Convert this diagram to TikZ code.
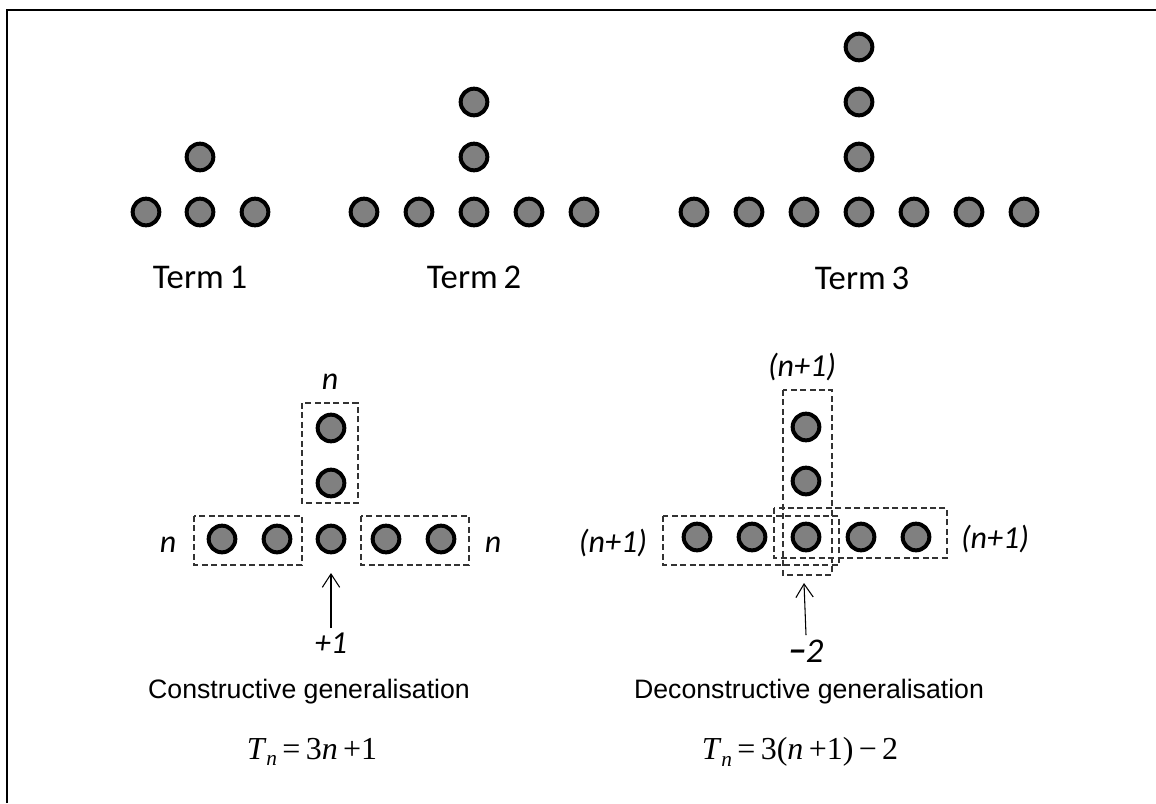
\documentclass[tikz,border=0pt]{standalone}
\usepackage{fontspec}
\usepackage{xcolor}
\usepackage{tikz}
\usetikzlibrary{
  arrows.meta,
  positioning,
  calc
}
\setmainfont{Carlito}
\newfontfamily\arialfont{Liberation Sans}
\newfontfamily\timesfont{Liberation Serif}
\definecolor{dotGray}{HTML}{808080}
\definecolor{boxGray}{HTML}{333333}
\tikzset{
  dot/.style={circle, draw=black, fill=dotGray, line width=3pt, minimum size=20pt, inner sep=0pt},
  dashbox/.style={draw=boxGray, line width=0.9pt, dash pattern=on 4.5pt off 2.6pt},
  termlabel/.style={font=\fontsize{26}{30}\selectfont},
  varlabel/.style={font=\fontsize{24}{28}\selectfont\itshape},
  caption/.style={font=\arialfont\fontsize{20}{24}\selectfont},
  formula/.style={font=\timesfont\fontsize{24}{28}\selectfont},
  uparrow/.style={line width=0.8pt, -{Straight Barb[length=10pt,width=13pt]}}
}
\newcommand{\subn}{\raisebox{-5pt}{\fontsize{16}{18}\selectfont\itshape n}}
\newcommand{\gap}{\hspace{4pt}}

\begin{document}
\begin{tikzpicture}[x=0.75pt, y=-0.75pt]
  \useasboundingbox (0,0) rectangle (1156,803);
  % frame
  \draw[line width=1.5pt] (7,803) -- (7,10) -- (1156,10);

  % term 1
  \foreach \x [count=\i] in {146,200,255}
    \node[dot] (ta\i) at (\x,212) {};
  \node[dot] (tav) at (200,157) {};
  \node[termlabel] (termA) at (200,277) {Term\,1};

  % term 2
  \foreach \x [count=\i] in {364,419,474,529,584}
    \node[dot] (tb\i) at (\x,212) {};
  \foreach \y [count=\i] in {157,102}
    \node[dot] (tbv\i) at (474,\y) {};
  \node[termlabel] (termB) at (474,277) {Term\,2};

  % term 3
  \foreach \x [count=\i] in {694,749,804,859,914,969,1024}
    \node[dot] (tc\i) at (\x,212) {};
  \foreach \y [count=\i] in {157,102,47}
    \node[dot] (tcv\i) at (859,\y) {};
  \node[termlabel] (termC) at (862,278) {Term\,3};

  % constructive
  \foreach \x [count=\i] in {222,277,331,386,441}
    \node[dot] (ca\i) at (\x,539) {};
  \foreach \y [count=\i] in {428,483}
    \node[dot] (cv\i) at (331,\y) {};
  \draw[dashbox] (302,403) rectangle (358,503);
  \draw[dashbox] (194,516) rectangle (302,565);
  \draw[dashbox] (361,516) rectangle (469,565);
  \node[varlabel] (cntop) at (330,382) {n};
  \node[varlabel] (cnleft) at (168,545) {n};
  \node[varlabel] (cnright) at (493,545) {n};
  \node[varlabel] (plusone) at (331,643) {+1};
  \coordinate (cmark) at (331,573);
  \draw[uparrow] (plusone.north) -- (cmark);
  \node[caption] (ccap) at (309,692) {Constructive generalisation};
  \node[formula] (ceq) at (312,752) {\textit{T}\subn\gap=\gap3\textit{n}\gap+1};

  % deconstructive
  \foreach \x [count=\i] in {697,752,806,861,916}
    \node[dot] (da\i) at (\x,537) {};
  \foreach \y [count=\i] in {427,481}
    \node[dot] (dv\i) at (806,\y) {};
  \draw[dashbox] (783,390) rectangle (832,575);
  \draw[dashbox] (663,516) rectangle (839,565);
  \draw[dashbox] (774,508) rectangle (947,558);
  \node[varlabel] (dntop) at (802,367) {(n+1)};
  \node[varlabel] (dnleft) at (613,543) {(n+1)};
  \node[varlabel] (dnright) at (995,539) {(n+1)};
  \node[varlabel, font=\fontsize{26}{30}\selectfont\itshape] (minustwo) at (806,651) {\textbf{\char"2212}2};
  \coordinate (dmark) at (804,583);
  \draw[uparrow] (minustwo.north) -- (dmark);
  \node[caption] (dcap) at (809,692) {Deconstructive generalisation};
  \node[formula] (deq) at (800,752) {\textit{T}\subn\gap=\gap3(\textit{n}\gap+1)\gap\char"2212\gap2};
\end{tikzpicture}
\end{document}
